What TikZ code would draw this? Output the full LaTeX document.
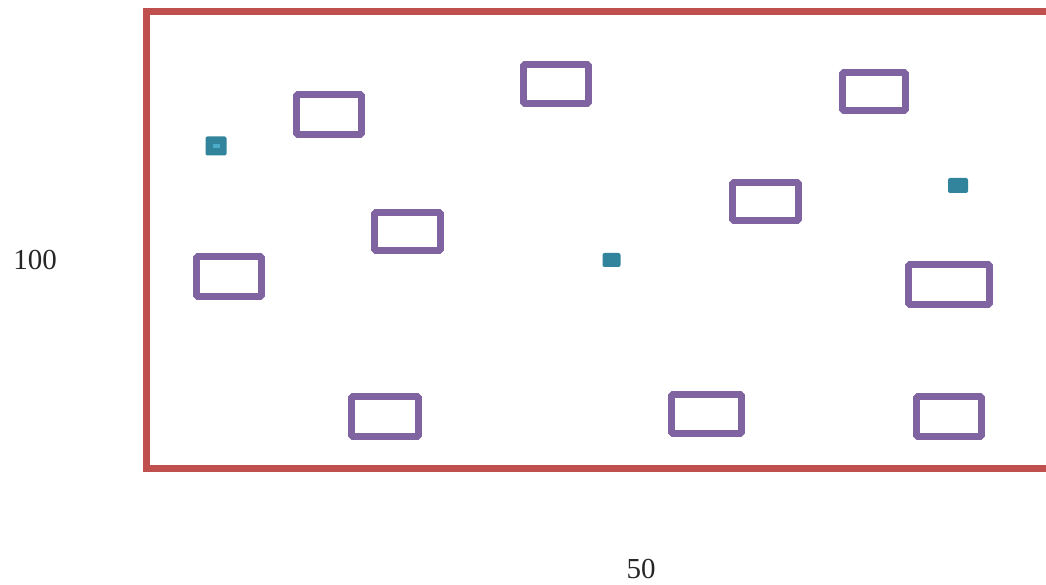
\documentclass[tikz,border=0pt]{standalone}
\usepackage{fontspec}
\setmainfont{Liberation Serif}
\definecolor{frame}{HTML}{C0504D}
\definecolor{box}{HTML}{8064A2}
\definecolor{tealdk}{HTML}{31849B}
\definecolor{teallt}{HTML}{4BACC6}
\tikzset{
  pbox/.style={draw=box, line width=6.8pt, rounded corners=1.5pt, inner sep=0pt, fill=white},
  tdot/.style={fill=tealdk, rounded corners=2pt, inner sep=0pt, draw=none},
  lbl/.style={font=\fontsize{29}{32}\selectfont, inner sep=0pt, text=black!85}
}
\begin{document}
\begin{tikzpicture}[x=1pt,y=-1pt]
\useasboundingbox (0,0) rectangle (1046,585);
\fill[white] (0,0) rectangle (1046,585);
\draw[frame, line width=7pt] (146.5,12) rectangle (1070,468.5);
% purple boxes: center, width, height (centerline)
\node[pbox, minimum width=65pt, minimum height=40pt] (b1) at (329,114.5) {};
\node[pbox, minimum width=65pt, minimum height=39pt] (b2) at (556,84) {};
\node[pbox, minimum width=63pt, minimum height=38pt] (b3) at (874,91.5) {};
\node[pbox, minimum width=66pt, minimum height=38pt] (b4) at (765.5,201.5) {};
\node[pbox, minimum width=66pt, minimum height=38pt] (b5) at (407.5,231.5) {};
\node[pbox, minimum width=65pt, minimum height=40pt] (b6) at (229,276.5) {};
\node[pbox, minimum width=81pt, minimum height=40pt] (b7) at (949,284.5) {};
\node[pbox, minimum width=67pt, minimum height=40pt] (b8) at (385,416.5) {};
\node[pbox, minimum width=70pt, minimum height=39pt] (b9) at (706.5,414) {};
\node[pbox, minimum width=65pt, minimum height=40pt] (b10) at (949,416.5) {};
% teal squares
\node[tdot, minimum width=21pt, minimum height=19pt] (t1) at (216,146) {};
\node[fill=teallt, inner sep=0pt, minimum width=7pt, minimum height=4pt] (t1c) at (216,146) {};
\node[tdot, minimum width=18pt, minimum height=14pt] (t2) at (611.5,260) {};
\node[tdot, minimum width=20pt, minimum height=15pt] (t3) at (958,185.5) {};
% labels
\node[lbl] (l100) at (35,260) {100};
\node[lbl] (l50) at (641,569) {50};
\end{tikzpicture}
\end{document}
